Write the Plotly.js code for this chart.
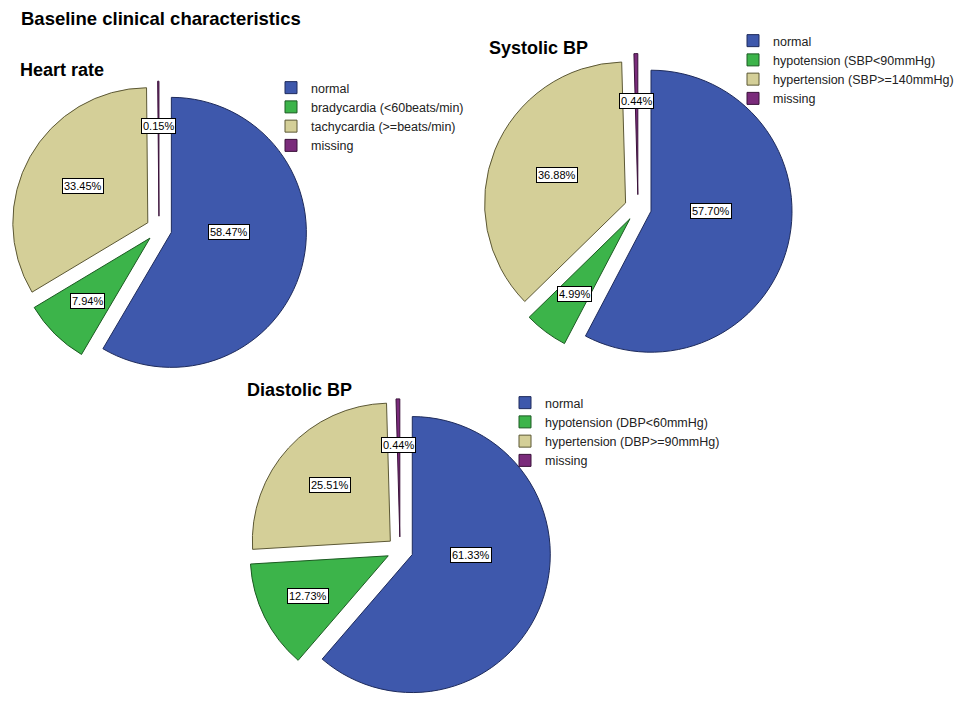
<!DOCTYPE html>
<html><head><meta charset="utf-8">
<script src="https://cdn.plot.ly/plotly-3.0.1.min.js"></script>
<style>
html,body{margin:0;padding:0;background:#fff;}
#wrap{position:relative;width:962px;height:714px;}
.layer{position:absolute;left:0;top:0;width:962px;height:714px;}
</style>
</head><body><div id="wrap">
<div id="chart0" class="layer"></div>
<div id="chart1" class="layer"></div>
<div id="chart2" class="layer"></div>
</div>
<script>
// ---- data ----
const mainTitle = 'Baseline clinical characteristics';
const chartTitles = ['Heart rate', 'Systolic BP', 'Diastolic BP'];
const hrLabels = ['normal', 'bradycardia (<60beats/min)', 'tachycardia (>=beats/min)', 'missing'];
const hrValues = [58.47, 7.94, 33.45, 0.15];
const sbpLabels = ['normal', 'hypotension (SBP<90mmHg)', 'hypertension (SBP>=140mmHg)', 'missing'];
const sbpValues = [57.70, 4.99, 36.88, 0.44];
const dbpLabels = ['normal', 'hypotension (DBP<60mmHg)', 'hypertension (DBP>=90mmHg)', 'missing'];
const dbpValues = [61.33, 12.73, 25.51, 0.44];

// ---- style / layout ----
const W = 962, H = 714;
const FONT = 'Arial, "Liberation Sans", sans-serif';
const fillColors = ['#3E58AC', '#3CB44A', '#D4CF98', '#7A2B7B'];
const edgeColors = ['#1E2B5C', '#1C5A22', '#5C5835', '#3A123A'];
const PULL = 0.095;
// pie centre (px), radius (px), legend top-left (px), title position (px)
const pies = [
  {labels: hrLabels, values: hrValues, cx: 159, cy: 229, r: 135, leg: {x: 271, y: 73},  title: {x: 18, y: 70}},
  {labels: sbpLabels, values: sbpValues, cx: 638, cy: 208, r: 141, leg: {x: 733, y: 26},  title: {x: 487, y: 48}},
  {labels: dbpLabels, values: dbpValues, cx: 400, cy: 550, r: 138, leg: {x: 505, y: 388}, title: {x: 245, y: 390}}
];

pies.forEach((p, i) => {
  const annotations = [];
  if (i === 0) {
    annotations.push({
      text: '<b>' + mainTitle + '</b>', xref: 'paper', yref: 'paper',
      x: 19 / W, y: 1 - 18 / H, xanchor: 'left', yanchor: 'middle', showarrow: false,
      font: {family: FONT, size: 18.5, color: '#000'}
    });
  }
  const half = p.r * (1 + PULL);
  const trace = {
    type: 'pie',
    labels: p.labels,
    values: p.values,
    sort: false,
    direction: 'clockwise',
    rotation: 0,
    pull: p.values.map(() => PULL),
    textinfo: 'none',
    hoverinfo: 'label+percent',
    marker: {colors: fillColors, line: {color: edgeColors, width: 1}},
    domain: {x: [(p.cx - half) / W, (p.cx + half) / W], y: [1 - (p.cy + half) / H, 1 - (p.cy - half) / H]},
    showlegend: true
  };
  annotations.push({
    text: '<b>' + chartTitles[i] + '</b>', xref: 'paper', yref: 'paper',
    x: p.title.x / W, y: 1 - p.title.y / H, xanchor: 'left', yanchor: 'middle', showarrow: false,
    font: {family: FONT, size: 18, color: '#000'}
  });
  // boxed percentage labels at the centroid of each slice (slice clipped to a half circle)
  const total = p.values.reduce((a, b) => a + b, 0);
  let cum = 0;
  p.values.forEach((v) => {
    const frac = v / total;
    const span = Math.min(frac, 0.5);
    const theta = 2 * Math.PI * (cum + span / 2);
    const alpha = Math.PI * span;
    const cent = alpha > 1e-6 ? 2 * p.r * Math.sin(alpha) / (3 * alpha) : 2 * p.r / 3;
    const d = PULL * p.r + cent;
    const tPull = 2 * Math.PI * (cum + frac / 2);
    const sx = p.cx + PULL * p.r * Math.sin(tPull) + cent * Math.sin(theta);
    const sy = p.cy - PULL * p.r * Math.cos(tPull) - cent * Math.cos(theta);
    annotations.push({
      text: v.toFixed(2) + '%', xref: 'paper', yref: 'paper',
      x: sx / W, y: 1 - sy / H, xanchor: 'center', yanchor: 'middle', showarrow: false,
      bgcolor: '#fff', bordercolor: '#000', borderwidth: 1, borderpad: 1,
      font: {family: FONT, size: 11, color: '#000'}
    });
    cum += frac;
  });

  const layout = {
    width: W, height: H,
    margin: {l: 0, r: 0, t: 0, b: 0},
    paper_bgcolor: i === 0 ? '#fff' : 'rgba(0,0,0,0)',
    plot_bgcolor: 'rgba(0,0,0,0)',
    font: {family: FONT},
    annotations: annotations,
    legend: {x: p.leg.x / W, y: 1 - p.leg.y / H, xanchor: 'left', yanchor: 'top',
      bgcolor: 'rgba(0,0,0,0)', borderwidth: 0,
      font: {family: FONT, size: 12.5, color: '#222'}}
  };
  Plotly.newPlot('chart' + i, [trace], layout, {displayModeBar: false, staticPlot: true});
});
</script>
</body></html>
